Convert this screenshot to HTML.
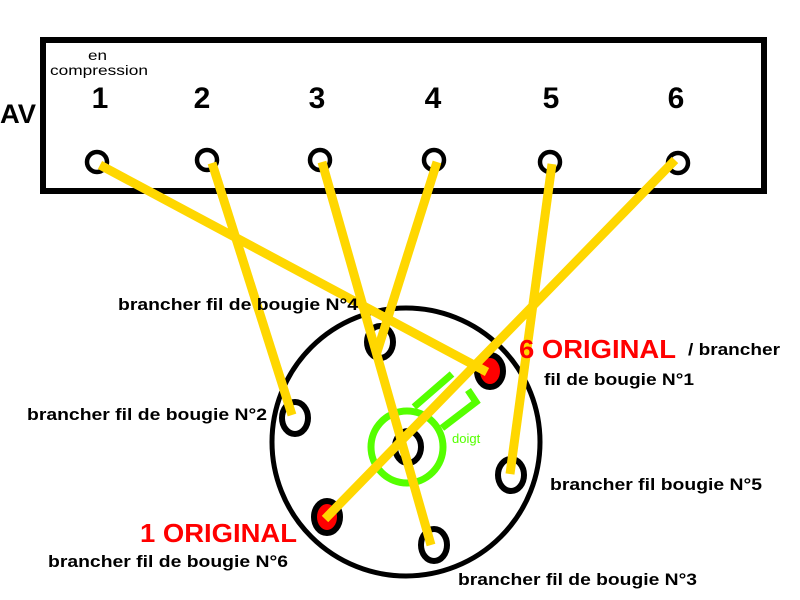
<html><body style="margin:0;background:#fff">
<svg width="800" height="600" xmlns="http://www.w3.org/2000/svg" style="font-family:'Liberation Sans',sans-serif;font-weight:bold">
<rect x="43" y="40" width="721" height="151" fill="none" stroke="#000" stroke-width="6"/>
<text x="0" y="123" font-size="27" textLength="36" lengthAdjust="spacingAndGlyphs">AV</text>
<text x="88" y="60" font-size="14" font-weight="normal" textLength="19" lengthAdjust="spacingAndGlyphs">en</text>
<text x="50" y="75" font-size="14" font-weight="normal" textLength="98" lengthAdjust="spacingAndGlyphs">compression</text>
<g font-size="30" text-anchor="middle">
<text x="100" y="108">1</text><text x="202" y="108">2</text><text x="317" y="108">3</text><text x="433" y="108">4</text><text x="551" y="108">5</text><text x="676" y="108">6</text>
</g>
<g fill="none" stroke="#000" stroke-width="4.5">
<ellipse cx="97" cy="162" rx="10" ry="10"/><ellipse cx="207" cy="160" rx="10" ry="10"/><ellipse cx="320" cy="160" rx="10" ry="10"/><ellipse cx="434" cy="160" rx="10" ry="10"/><ellipse cx="550" cy="162" rx="10" ry="10"/><ellipse cx="678" cy="163" rx="10" ry="10"/>
</g>
<circle cx="406" cy="442" r="134" fill="none" stroke="#000" stroke-width="5"/>
<g stroke="#000" stroke-width="6" fill="#fff">
<ellipse cx="380" cy="342" rx="13" ry="16"/>
<ellipse cx="490" cy="371" rx="13" ry="16" fill="#f00"/>
<ellipse cx="295" cy="418" rx="13" ry="16"/>
<ellipse cx="408" cy="447" rx="13" ry="16"/>
<ellipse cx="511" cy="475" rx="13" ry="16"/>
<ellipse cx="327" cy="517" rx="13" ry="16" fill="#f00"/>
<ellipse cx="434" cy="545" rx="13" ry="16"/>
</g>
<g stroke="#55FF00" stroke-width="7" fill="none">
<circle cx="407" cy="447" r="36"/>
<polyline points="452,374 414,407"/>
<polyline points="468,390 476,402 442,428"/>
</g>
<text x="452" y="443" font-size="13" font-weight="normal" fill="#55FF00">doigt</text>
<g stroke="#FFD700" stroke-width="9" stroke-linecap="butt">
<line x1="100" y1="165" x2="487" y2="372"/>
<line x1="212" y1="163" x2="292" y2="415"/>
<line x1="322" y1="162" x2="431" y2="545"/>
<line x1="437" y1="162" x2="377" y2="352"/>
<line x1="552" y1="164" x2="510" y2="474"/>
<line x1="675" y1="160" x2="325" y2="519"/>
</g>
<g font-size="17">
<text x="118" y="310" textLength="240" lengthAdjust="spacingAndGlyphs">brancher fil de bougie N°4</text>
<text x="688" y="355" textLength="92" lengthAdjust="spacingAndGlyphs">/ brancher</text>
<text x="544" y="385" textLength="150" lengthAdjust="spacingAndGlyphs">fil de bougie N°1</text>
<text x="27" y="420" textLength="240" lengthAdjust="spacingAndGlyphs">brancher fil de bougie N°2</text>
<text x="550" y="490" textLength="212" lengthAdjust="spacingAndGlyphs">brancher fil bougie N°5</text>
<text x="48" y="567" textLength="240" lengthAdjust="spacingAndGlyphs">brancher fil de bougie N°6</text>
<text x="458" y="585" textLength="239" lengthAdjust="spacingAndGlyphs">brancher fil de bougie N°3</text>
</g>
<text x="519" y="358" font-size="26" fill="#f00" textLength="157" lengthAdjust="spacingAndGlyphs">6 ORIGINAL</text>
<text x="140" y="542" font-size="26" fill="#f00" textLength="157" lengthAdjust="spacingAndGlyphs">1 ORIGINAL</text>
</svg>
</body></html>
